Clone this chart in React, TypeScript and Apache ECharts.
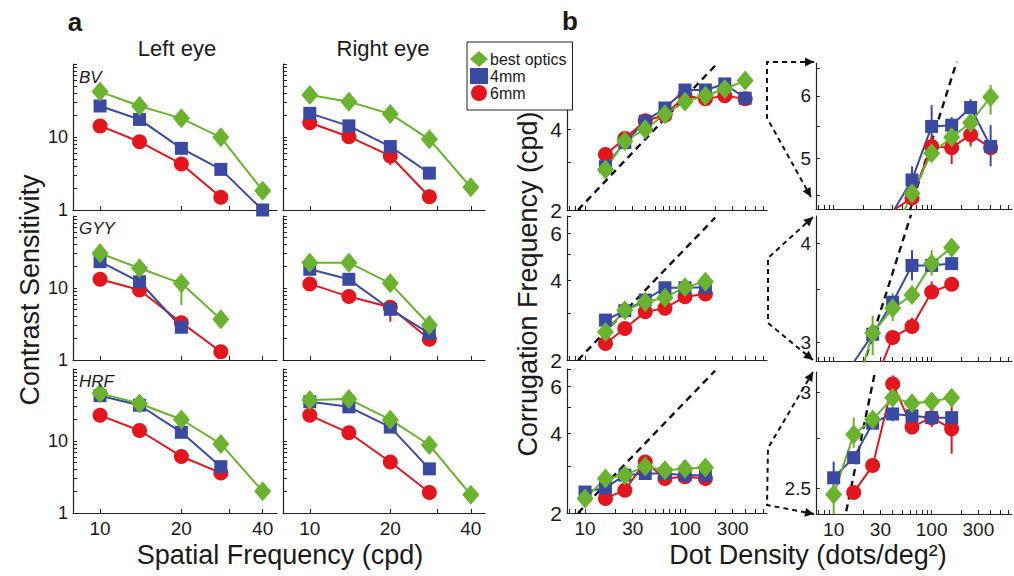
import React, { useEffect, useRef } from "react";
import * as echarts from "echarts";

// ---------------- data ----------------
// panel a: spatial frequency (cpd)
const SF = [10, 14, 20, 28, 40];
const BV_L_BEST = [41.9, 26.6, 18.0, 9.9, 1.84];
const BV_L_4MM = [26.6, 17.4, 7.0, 3.6, 1.0];
const BV_L_6MM = [14.2, 8.6, 4.27, 1.49];
const BV_R_BEST = [37.6, 30.5, 20.7, 9.3, 2.05];
const BV_R_4MM = [21.1, 14.2, 7.4, 3.2];
const BV_R_6MM = [15.7, 10.1, 5.5, 1.52];
const GYY_L_BEST = [30.3, 18.8, 11.6, 3.67];
const GYY_L_4MM = [23.2, 12.2, 2.85];
const GYY_L_6MM = [13.2, 9.4, 3.3, 1.3];
const GYY_R_BEST = [22.5, 22.5, 11.6, 3.06];
const GYY_R_4MM = [18.2, 13.2, 5.06, 2.35];
const GYY_R_6MM = [11.4, 7.6, 5.4, 1.94];
const HRF_L_BEST = [45.9, 33.2, 19.9, 9.1, 2.0];
const HRF_L_4MM = [42.6, 31.4, 13.2, 4.4];
const HRF_L_6MM = [22.7, 14.0, 6.1, 3.6];
const HRF_R_BEST = [37.0, 38.2, 19.8, 8.8, 1.79];
const HRF_R_4MM = [35.1, 29.8, 15.6, 4.1];
const HRF_R_6MM = [22.7, 13.0, 5.1, 1.93];

// panel b: dot density (dots/deg^2) vs corrugation frequency (cpd)
const DENS_1 = [16, 25, 40, 63, 100, 160, 250, 400];
const DENS_2 = [16, 25, 40, 63, 100, 160];
const DENS_3 = [10, 16, 25, 40, 63, 100, 160];
const ROW1_BEST = [2.83, 3.61, 4.0, 4.55, 5.06, 5.33, 5.65, 6.07];
const ROW1_4MM = [2.9, 3.57, 4.28, 4.8, 5.6, 5.6, 5.9, 5.22];
const ROW1_6MM = [3.22, 3.69, 4.3, 4.51, 5.33, 5.19, 5.33, 5.19];
const ZOOM1_BEST = [2.83, 3.61, 4.0, 4.52, 5.08, 5.32, 5.55, 5.98];
const ZOOM1_4MM = [2.9, 3.57, 4.28, 4.7, 5.49, 5.51, 5.8, 5.18];
const ZOOM1_6MM = [3.22, 3.69, 4.3, 4.46, 5.18, 5.16, 5.36, 5.16];
const ROW2_BEST = [2.55, 3.08, 3.31, 3.44, 3.77, 3.95];
const ROW2_4MM = [2.83, 3.07, 3.37, 3.75, 3.75, 3.77];
const ROW2_6MM = [2.31, 2.63, 3.04, 3.14, 3.47, 3.55];
const ROW3_BEST = [2.27, 2.7, 2.78, 3.0, 2.9, 2.94, 2.97];
const ROW3_4MM = [2.4, 2.49, 2.78, 2.82, 2.82, 2.78, 2.78];
const ROW3_6MM = [null, 2.27, 2.44, 3.12, 2.7, 2.74, 2.7];
const ZOOM3_BEST = [2.47, 2.77, 2.85, 2.97, 2.94, 2.95, 2.97];
const ZOOM3_4MM = [2.55, 2.65, 2.83, 2.88, 2.87, 2.86, 2.86];
const ZOOM3_6MM = [null, 2.48, 2.61, 3.05, 2.81, 2.86, 2.8];

// dashed reference line (two end points)
const THEORY_DENS = [8.5, 200];
const THEORY_FREQ = [2.0, 6.9];

// error bars: [series, x, low, high]
const ERR_BV_R = [["6mm", 20, 4.1, 6.4]];
const ERR_GYY_L = [["best optics", 20, 5.8, 14.5]];
const ERR_GYY_R = [["6mm", 20, 3.4, 6.3], ["best optics", 20, 9.4, 13.5]];
const ERR_ZOOM1 = [
  ["4mm", 63, 4.52, 4.89], ["4mm", 100, 5.14, 5.84], ["4mm", 160, 5.38, 5.64], ["4mm", 250, 5.67, 5.94], ["4mm", 400, 4.89, 5.51],
  ["best optics", 160, 5.17, 5.47], ["best optics", 250, 5.17, 5.73], ["best optics", 400, 5.68, 6.19],
  ["6mm", 100, 5.0, 5.35], ["6mm", 160, 4.92, 5.4], ["6mm", 250, 5.2, 5.52],
];
const ERR_ZOOM2 = [
  ["4mm", 40, 3.3, 3.44], ["4mm", 63, 3.59, 3.92],
  ["best optics", 25, 2.89, 3.24], ["best optics", 40, 3.19, 3.46], ["best optics", 63, 3.36, 3.52], ["best optics", 100, 3.64, 3.92], ["best optics", 160, 3.85, 4.05],
  ["6mm", 63, 3.08, 3.22], ["6mm", 100, 3.42, 3.58],
];
const ERR_ZOOM3 = [
  ["4mm", 10, 2.47, 2.63], ["4mm", 40, 2.84, 2.92],
  ["best optics", 10, 2.34, 2.55], ["best optics", 16, 2.7, 2.86], ["best optics", 40, 2.93, 3.02], ["best optics", 160, 2.92, 3.02],
  ["6mm", 40, 2.98, 3.1], ["6mm", 63, 2.77, 2.86], ["6mm", 100, 2.81, 2.92], ["6mm", 160, 2.67, 2.94],
];

// axis ticks / labels
const A_X_RANGE = [7.94, 45.2];
const A_Y_RANGE = [1, 100];
const A_X_TICKS = [10, 20, 30, 40];
const A_X_LABELS = [10, 20, 40];
const A_Y_TICKS = [1, 2, 3, 4, 5, 6, 7, 8, 9, 10, 20, 30, 40, 50, 60, 70, 80, 90, 100];
const A_Y_LABELS = [1, 10];
const B_X_RANGE = [6.6, 661];
const B_X_TICKS = [7, 8, 9, 10, 20, 30, 40, 50, 60, 70, 80, 90, 100, 200, 300, 400, 500, 600];
const B_X_LABELS = [10, 30, 100, 300];
const B_Y_RANGE = [2, 7];
const B_Y_TICKS = [2, 3, 4, 5, 6, 7];
const B_Y_LABELS = [2, 4, 6];
const Z1_Y_RANGE = [4.32, 6.6];
const Z1_Y_TICKS = [4.5, 5, 5.5, 6, 6.5];
const Z1_Y_LABELS = [5, 6];
const Z2_Y_RANGE = [2.84, 4.33];
const Z2_Y_TICKS = [3, 3.5, 4];
const Z2_Y_LABELS = [3, 4];
const Z3_Y_RANGE = [2.38, 3.12];
const Z3_Y_TICKS = [2.5, 2.75, 3];
const Z3_Y_LABELS = [2.5, 3];

// ---------------- styling ----------------
const FONT = "'Liberation Sans', Arial, Helvetica, sans-serif";
const TXT = "#1a1a1a";
const NAMES = ["6mm", "4mm", "best optics"];
const STYLE: any = {
  "best optics": { color: "#69b32e", symbol: "diamond", size: [17, 20] },
  "4mm": { color: "#3a4aa2", symbol: "rect", size: 13 },
  "6mm": { color: "#e3161d", symbol: "circle", size: 15 },
};

const lg = Math.log10;
const fmt = (v: number) => {
  const n = Math.pow(10, v);
  return n >= 10 ? String(Math.round(n)) : String(Math.round(n * 100) / 100);
};

type Panel = {
  left: number; top: number; width: number; height: number;
  xRange: number[]; yRange: number[];
  xTicks: number[]; xLabels: number[];
  yTicks: number[]; yLabels: number[];
  xSize: number; ySize: number;
  lines: [string, number[], (number | null)[]][];
  errs?: any[];
  theory?: boolean;
};

const A_ROWS = [{ top: 64, height: 146 }, { top: 216, height: 144 }, { top: 369, height: 144 }];
const A_COLS = [{ left: 73, width: 204 }, { left: 283, width: 202 }];
const B_MAIN = { left: 567, width: 200 };
const B_ZOOM = { left: 816, width: 196 };
const B_ZOOM_ROWS = [{ top: 63, height: 146 }, { top: 216, height: 145 }, { top: 372, height: 142 }];

function aPanel(row: number, col: number, best: number[], m4: number[], m6: number[], errs?: any[]): Panel {
  return {
    ...A_ROWS[row], ...A_COLS[col],
    xRange: A_X_RANGE, yRange: A_Y_RANGE,
    xTicks: A_X_TICKS, xLabels: row === 2 ? A_X_LABELS : [],
    yTicks: A_Y_TICKS, yLabels: col === 0 ? A_Y_LABELS : [],
    xSize: 19, ySize: 18,
    lines: [["6mm", SF, m6], ["4mm", SF, m4], ["best optics", SF, best]],
    errs,
  };
}

function bPanel(row: number, zoom: boolean, dens: number[], best: any[], m4: any[], m6: any[], yRange: number[], yTicks: number[], yLabels: number[], errs?: any[]): Panel {
  const pos = zoom ? { ...B_ZOOM, ...B_ZOOM_ROWS[row] } : { ...B_MAIN, ...A_ROWS[row] };
  return {
    ...pos,
    xRange: B_X_RANGE, yRange,
    xTicks: B_X_TICKS, xLabels: row === 2 ? B_X_LABELS : [],
    yTicks, yLabels,
    xSize: 19, ySize: zoom ? 19 : 21,
    lines: [["6mm", dens, m6], ["4mm", dens, m4], ["best optics", dens, best]],
    errs, theory: true,
  };
}

const PANELS: Panel[] = [
  aPanel(0, 0, BV_L_BEST, BV_L_4MM, BV_L_6MM),
  aPanel(0, 1, BV_R_BEST, BV_R_4MM, BV_R_6MM, ERR_BV_R),
  aPanel(1, 0, GYY_L_BEST, GYY_L_4MM, GYY_L_6MM, ERR_GYY_L),
  aPanel(1, 1, GYY_R_BEST, GYY_R_4MM, GYY_R_6MM, ERR_GYY_R),
  aPanel(2, 0, HRF_L_BEST, HRF_L_4MM, HRF_L_6MM),
  aPanel(2, 1, HRF_R_BEST, HRF_R_4MM, HRF_R_6MM),
  bPanel(0, false, DENS_1, ROW1_BEST, ROW1_4MM, ROW1_6MM, B_Y_RANGE, B_Y_TICKS, B_Y_LABELS),
  bPanel(1, false, DENS_2, ROW2_BEST, ROW2_4MM, ROW2_6MM, B_Y_RANGE, B_Y_TICKS, B_Y_LABELS),
  bPanel(2, false, DENS_3, ROW3_BEST, ROW3_4MM, ROW3_6MM, B_Y_RANGE, B_Y_TICKS, B_Y_LABELS),
  bPanel(0, true, DENS_1, ZOOM1_BEST, ZOOM1_4MM, ZOOM1_6MM, Z1_Y_RANGE, Z1_Y_TICKS, Z1_Y_LABELS, ERR_ZOOM1),
  bPanel(1, true, DENS_2, ROW2_BEST, ROW2_4MM, ROW2_6MM, Z2_Y_RANGE, Z2_Y_TICKS, Z2_Y_LABELS, ERR_ZOOM2),
  bPanel(2, true, DENS_3, ZOOM3_BEST, ZOOM3_4MM, ZOOM3_6MM, Z3_Y_RANGE, Z3_Y_TICKS, Z3_Y_LABELS, ERR_ZOOM3),
];

function makeAxis(idx: number, range: number[], ticks: number[], labels: number[], size: number, margin: number) {
  return {
    type: "value",
    gridIndex: idx,
    min: lg(range[0]),
    max: lg(range[1]),
    axisLine: { show: true, onZero: false, lineStyle: { color: "#222", width: 1.2 } },
    axisTick: { show: true, inside: true, length: 4, customValues: ticks.map(lg), lineStyle: { color: "#222", width: 1 } },
    axisLabel: {
      show: labels.length > 0,
      customValues: labels.map(lg),
      formatter: fmt,
      fontSize: size,
      color: TXT,
      fontFamily: FONT,
      margin,
    },
    splitLine: { show: false },
  };
}

function arrowHead(tip: number[], from: number[]) {
  const dx = tip[0] - from[0];
  const dy = tip[1] - from[1];
  const L = Math.sqrt(dx * dx + dy * dy);
  const ux = dx / L, uy = dy / L;
  const bx = tip[0] - ux * 9, by = tip[1] - uy * 9;
  const px = -uy * 4.5, py = ux * 4.5;
  return {
    type: "polygon",
    shape: { points: [tip, [bx + px, by + py], [bx - px, by - py]] },
    style: { fill: "#111" },
    z: 30,
  };
}

function connector(points: number[][]) {
  const n = points.length;
  return [
    { type: "polyline", shape: { points }, style: { stroke: "#111", lineWidth: 2, lineDash: [5, 4], fill: null }, z: 30 },
    arrowHead(points[0], points[1]),
    arrowHead(points[n - 1], points[n - 2]),
  ];
}

function txt(text: string, x: number, y: number, size: number, extra: any = {}, rotation = 0) {
  return {
    type: "text",
    x, y, rotation,
    z: 40,
    style: { text, fontSize: size, fontFamily: FONT, fill: TXT, align: "center", verticalAlign: "middle", ...extra },
  };
}

function buildOption() {
  const grid: any[] = [];
  const xAxis: any[] = [];
  const yAxis: any[] = [];
  const series: any[] = [];
  PANELS.forEach((p, i) => {
    grid.push({ left: p.left, top: p.top, width: p.width, height: p.height, containLabel: false });
    xAxis.push(makeAxis(i, p.xRange, p.xTicks, p.xLabels, p.xSize, 6));
    yAxis.push(makeAxis(i, p.yRange, p.yTicks, p.yLabels, p.ySize, 5));
    if (p.theory) {
      series.push({
        type: "line", xAxisIndex: i, yAxisIndex: i, silent: true, clip: true, z: 1,
        symbol: "none",
        lineStyle: { color: "#111", width: 2.4, type: [7, 5] },
        data: THEORY_DENS.map((d, k) => [lg(d), lg(THEORY_FREQ[k])]),
      });
    }
    if (p.errs && p.errs.length) {
      series.push({
        type: "custom", xAxisIndex: i, yAxisIndex: i, silent: true, clip: true, z: 2,
        renderItem: (_params: any, api: any) => {
          const a = api.coord([api.value(0), api.value(1)]);
          const b = api.coord([api.value(0), api.value(2)]);
          return {
            type: "line",
            shape: { x1: a[0], y1: a[1], x2: b[0], y2: b[1] },
            style: { stroke: STYLE[NAMES[api.value(3)]].color, lineWidth: 2 },
          };
        },
        data: p.errs.map((e: any[]) => [lg(e[1]), lg(e[2]), lg(e[3]), NAMES.indexOf(e[0])]),
      });
    }
    p.lines.forEach(([name, xs, ys]) => {
      const st = STYLE[name];
      const data: number[][] = [];
      xs.forEach((x, k) => {
        const y = ys[k];
        if (y != null && y !== undefined) data.push([lg(x), lg(y as number)]);
      });
      series.push({
        type: "line", name, xAxisIndex: i, yAxisIndex: i, clip: true, z: 3,
        symbol: st.symbol, symbolSize: st.size, showAllSymbol: true,
        itemStyle: { color: st.color },
        lineStyle: { color: st.color, width: 2 },
        data,
      });
    });
  });

  const graphic: any[] = [
    txt("a", 75, 22, 26, { fontWeight: "bold" }),
    txt("b", 570, 21, 26, { fontWeight: "bold" }),
    txt("Left eye", 177, 48, 22),
    txt("Right eye", 383, 48, 22),
    txt("BV", 79, 77, 17, { fontStyle: "italic", align: "left" }),
    txt("GYY", 79, 228, 17, { fontStyle: "italic", align: "left" }),
    txt("HRF", 79, 381, 17, { fontStyle: "italic", align: "left" }),
    txt("Contrast Sensitivity", 30, 290, 27, {}, Math.PI / 2),
    txt("Spatial Frequency (cpd)", 280, 555, 27),
    txt("Corrugation Frequency (cpd)", 528, 284, 27, {}, Math.PI / 2),
    txt("Dot Density (dots/deg²)", 808, 555, 27),
    ...connector([[814, 62], [767, 62], [767, 118], [811, 197]]),
    ...connector([[813, 217], [768, 258], [768, 323], [813, 360]]),
    ...connector([[813, 372], [768, 448], [767, 505], [814, 514]]),
  ];

  return {
    animation: false,
    backgroundColor: "#ffffff",
    textStyle: { fontFamily: FONT },
    grid,
    xAxis,
    yAxis,
    legend: {
      data: [
        { name: "best optics", icon: "diamond" },
        { name: "4mm", icon: "rect" },
        { name: "6mm", icon: "circle" },
      ],
      orient: "vertical",
      left: 467,
      top: 42,
      itemWidth: 18,
      itemHeight: 16,
      itemGap: 1,
      padding: [9, 6, 9, 3],
      backgroundColor: "#ffffff",
      borderColor: "#222",
      borderWidth: 1,
      textStyle: { fontSize: 16, color: TXT, fontFamily: FONT, padding: [0, 0, 0, -3] },
      selectedMode: false,
      z: 20,
    },
    graphic,
    series,
  };
}

export default function App() {
  const ref = useRef<HTMLDivElement>(null);
  useEffect(() => {
    if (!ref.current) return;
    const chart = echarts.init(ref.current, undefined, { renderer: "svg" });
    chart.setOption(buildOption() as any);
    return () => chart.dispose();
  }, []);
  return (
    <div
      ref={ref}
      style={{ position: "absolute", left: 0, top: 0, width: 1014, height: 576, background: "#fff" }}
    />
  );
}
